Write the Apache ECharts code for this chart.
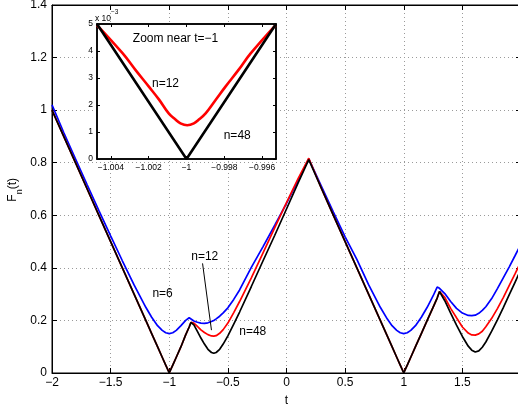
<!DOCTYPE html>
<html>
<head>
<meta charset="utf-8">
<script src="https://cdn.jsdelivr.net/npm/echarts@6/dist/echarts.min.js"></script>
<style>
  html, body { margin: 0; padding: 0; background: #fff; }
  #chart { width: 518px; height: 404px; }
</style>
</head>
<body>
<div id="chart"></div>
<script>
// Sample positions along t shared by the three main curves
const tValues = [-2, -1.9, -1.8, -1.7, -1.6, -1.5, -1.4, -1.3, -1.2, -1.15, -1.1, -1.06, -1.03, -1,
  -0.97, -0.94, -0.9, -0.86, -0.83, -0.815,
  -0.79, -0.76, -0.73, -0.7, -0.67, -0.64, -0.62, -0.6, -0.57, -0.54, -0.5, -0.45, -0.4,
  -0.3, -0.2, -0.1, 0, 0.1, 0.19,
  0.3, 0.4, 0.5, 0.6, 0.7, 0.8, 0.86, 0.9, 0.94, 0.97, 1,
  1.03, 1.06, 1.1, 1.15, 1.2, 1.25, 1.285, 1.305,
  1.35, 1.4, 1.45, 1.5, 1.55, 1.58, 1.61, 1.64, 1.67, 1.7, 1.75, 1.8, 1.85, 1.9, 1.95, 2];

// F_n(t) for n = 6
const fn6 = [1.02, 0.915, 0.815, 0.716, 0.618, 0.522, 0.427, 0.335, 0.25, 0.212, 0.18, 0.162, 0.153, 0.15,
  0.153, 0.162, 0.18, 0.2, 0.21, 0.205,
  0.198, 0.193, 0.19, 0.189, 0.191, 0.196, 0.2, 0.206, 0.216, 0.229, 0.248, 0.28, 0.316,
  0.402, 0.481, 0.562, 0.645, 0.735, 0.815,
  0.708, 0.612, 0.518, 0.432, 0.336, 0.25, 0.205, 0.18, 0.162, 0.153, 0.15,
  0.153, 0.162, 0.18, 0.212, 0.25, 0.293, 0.327, 0.322,
  0.302, 0.272, 0.246, 0.228, 0.219, 0.218, 0.22, 0.227, 0.238, 0.252, 0.283, 0.322, 0.363, 0.404, 0.447, 0.491];

// F_n(t) for n = 12
const fn12 = [1.0, 0.9, 0.8, 0.7, 0.6, 0.5, 0.4, 0.3, 0.2, 0.15, 0.1, 0.06, 0.03, 0.0013,
  0.03, 0.06, 0.1, 0.145, 0.175, 0.193,
  0.19, 0.177, 0.164, 0.154, 0.146, 0.141, 0.14, 0.142, 0.151, 0.165, 0.19, 0.23, 0.272,
  0.362, 0.457, 0.553, 0.648, 0.74, 0.817,
  0.7, 0.6, 0.5, 0.4, 0.3, 0.2, 0.14, 0.1, 0.06, 0.03, 0.0013,
  0.03, 0.06, 0.1, 0.15, 0.2, 0.25, 0.285, 0.31,
  0.288, 0.246, 0.21, 0.175, 0.152, 0.145, 0.144, 0.149, 0.159, 0.176, 0.208, 0.246, 0.288, 0.333, 0.378, 0.424];

// F_n(t) for n = 48
const fn48 = [1.0, 0.9, 0.8, 0.7, 0.6, 0.5, 0.4, 0.3, 0.2, 0.15, 0.1, 0.06, 0.03, 0,
  0.03, 0.06, 0.1, 0.145, 0.175, 0.192,
  0.183, 0.158, 0.133, 0.11, 0.09, 0.078, 0.075, 0.078, 0.09, 0.11, 0.141, 0.186, 0.232,
  0.329, 0.427, 0.524, 0.624, 0.724, 0.812,
  0.7, 0.6, 0.5, 0.4, 0.3, 0.2, 0.14, 0.1, 0.06, 0.03, 0,
  0.03, 0.06, 0.1, 0.15, 0.2, 0.25, 0.285, 0.31,
  0.275, 0.228, 0.182, 0.139, 0.102, 0.087, 0.08, 0.084, 0.098, 0.118, 0.159, 0.203, 0.25, 0.298, 0.346, 0.395];

// Close-up around t = -1 (values in units of 1e-3)
const insetT12 = [-1.00473, -1.00337, -1.0027, -1.00199, -1.00145, -1.00094, -1.0006, -1.00032, -0.99996,
  -0.99961, -0.99933, -0.99899, -0.9985, -0.99794, -0.99725, -0.99661, -0.99529];
const insetF12 = [4.96, 3.91, 3.3, 2.68, 2.2, 1.69, 1.47, 1.32, 1.25,
  1.32, 1.47, 1.69, 2.15, 2.68, 3.3, 3.91, 4.96];
const insetT48 = [-1.00473, -1, -0.99527];
const insetF48 = [5, 0, 5];
const insetXTicks = [-1.004, -1.002, -1, -0.998, -0.996];

const pair = (xs, ys) => xs.map((x, i) => [x, ys[i]]);
const minus = s => s.replace('-', '\u2212');
const FONT = 'Liberation Sans, Arial, Helvetica, sans-serif';

const chart = echarts.init(document.getElementById('chart'), null, { renderer: 'canvas' });

const tickInside = { show: true, inside: true, length: 5, lineStyle: { color: '#000', width: 1 } };
const axisBlack = { show: true, onZero: false, lineStyle: { color: '#000', width: 1 } };
const insetLine = { show: true, onZero: false, lineStyle: { color: '#000', width: 1.5 } };
const dotted = { show: true, lineStyle: { color: '#9a9a9a', width: 1, type: [1, 3] } };

function textMark(coord, text, size) {
  return {
    coord: coord, name: text, value: 0,
    symbol: 'circle', symbolSize: 0,
    itemStyle: { color: 'rgba(0,0,0,0)' },
    label: { show: true, position: 'inside', formatter: '{b}', color: '#000', fontSize: size || 12, fontFamily: FONT }
  };
}

chart.setOption({
  animation: false,
  backgroundColor: '#fff',
  grid: [
    { left: 52, top: 5, width: 469, height: 368, outerBoundsMode: 'none', containLabel: false,
      show: true, borderColor: '#000', borderWidth: 1, backgroundColor: 'transparent' },
    { left: 97, top: 24, width: 179, height: 135, outerBoundsMode: 'none', containLabel: false,
      show: true, borderColor: '#000', borderWidth: 1.5, backgroundColor: '#fff', z: 10 }
  ],
  xAxis: [
    {
      gridIndex: 0, type: 'value', min: -2, max: 2, interval: 0.5, position: 'bottom',
      axisLine: axisBlack, axisTick: tickInside, splitLine: dotted,
      axisLabel: { color: '#000', fontSize: 12, fontFamily: FONT, margin: 4,
        formatter: v => minus(String(+v.toFixed(1))) },
      name: 't', nameLocation: 'middle', nameGap: 22,
      nameTextStyle: { color: '#000', fontSize: 12, fontFamily: FONT }
    },
    {
      gridIndex: 0, type: 'value', min: -2, max: 2, interval: 0.5, position: 'top',
      axisLine: axisBlack, axisTick: tickInside, splitLine: { show: false }, axisLabel: { show: false }
    },
    {
      gridIndex: 1, type: 'value', min: -1.00473, max: -0.99527, position: 'bottom', z: 11,
      axisLine: insetLine,
      axisTick: { show: true, inside: true, length: 3, customValues: insetXTicks, lineStyle: { color: '#000' } },
      splitLine: { show: false },
      axisLabel: { color: '#000', fontSize: 8.5, fontFamily: FONT, margin: 4, customValues: insetXTicks,
        formatter: v => minus(String(+v.toFixed(3))) }
    },
    {
      gridIndex: 1, type: 'value', min: -1.00473, max: -0.99527, position: 'top', z: 11,
      axisLine: insetLine,
      axisTick: { show: true, inside: true, length: 3, customValues: insetXTicks, lineStyle: { color: '#000' } },
      splitLine: { show: false }, axisLabel: { show: false }
    }
  ],
  yAxis: [
    {
      gridIndex: 0, type: 'value', min: 0, max: 1.4, interval: 0.2, position: 'left',
      axisLine: axisBlack, axisTick: tickInside, splitLine: dotted,
      axisLabel: { color: '#000', fontSize: 12, fontFamily: FONT, margin: 5,
        formatter: v => String(+v.toFixed(1)) }
    },
    {
      gridIndex: 0, type: 'value', min: 0, max: 1.4, interval: 0.2, position: 'right',
      axisLine: axisBlack, axisTick: tickInside, splitLine: { show: false }, axisLabel: { show: false }
    },
    {
      gridIndex: 1, type: 'value', min: 0, max: 5, interval: 1, position: 'left', z: 11,
      axisLine: insetLine,
      axisTick: { show: true, inside: true, length: 3, lineStyle: { color: '#000' } },
      splitLine: { show: false },
      axisLabel: { color: '#000', fontSize: 8.5, fontFamily: FONT, margin: 4 }
    },
    {
      gridIndex: 1, type: 'value', min: 0, max: 5, interval: 1, position: 'right', z: 11,
      axisLine: insetLine,
      axisTick: { show: true, inside: true, length: 3, lineStyle: { color: '#000' } },
      splitLine: { show: false }, axisLabel: { show: false }
    }
  ],
  graphic: [
    {
      type: 'text', left: 7, top: 178, rotation: Math.PI / 2, z: 20,
      style: {
        text: '{i|F}{s|n}{i|(t)}',
        rich: {
          i: { fontSize: 12, fontFamily: FONT, fill: '#000', lineHeight: 17, verticalAlign: 'top' },
          s: { fontSize: 9, fontFamily: FONT, fill: '#000', lineHeight: 17, verticalAlign: 'bottom' }
        }
      }
    },
    {
      type: 'text', left: 95, top: 9, z: 20,
      style: {
        text: '{a|x 10}{b|\u22123}',
        rich: {
          a: { fontSize: 8.5, fontFamily: FONT, fill: '#000', lineHeight: 14, verticalAlign: 'bottom' },
          b: { fontSize: 6.5, fontFamily: FONT, fill: '#000', lineHeight: 14, verticalAlign: 'top' }
        }
      }
    }
  ],
  series: [
    {
      name: 'n=6', type: 'line', xAxisIndex: 0, yAxisIndex: 0, data: pair(tValues, fn6),
      showSymbol: false, lineStyle: { color: '#0000ff', width: 1.7 }, z: 2
    },
    {
      name: 'n=12', type: 'line', xAxisIndex: 0, yAxisIndex: 0, data: pair(tValues, fn12),
      showSymbol: false, lineStyle: { color: '#ff0000', width: 1.7 }, z: 3
    },
    {
      name: 'n=48', type: 'line', xAxisIndex: 0, yAxisIndex: 0, data: pair(tValues, fn48),
      showSymbol: false, lineStyle: { color: '#000000', width: 1.7 }, z: 4,
      markPoint: {
        silent: true, z: 6,
        data: [
          textMark([-1.057, 0.30], 'n=6'),
          textMark([-0.697, 0.442], 'n=12'),
          textMark([-0.288, 0.157], 'n=48')
        ]
      },
      markLine: {
        silent: true, z: 6, symbol: ['none', 'arrow'], symbolSize: [0, 8],
        label: { show: false },
        lineStyle: { color: '#000', width: 1, type: 'solid' },
        data: [[{ coord: [-0.716, 0.417] }, { coord: [-0.64, 0.163] }]]
      }
    },
    {
      name: 'n=12 close-up', type: 'line', xAxisIndex: 2, yAxisIndex: 2, data: pair(insetT12, insetF12),
      showSymbol: false, smooth: 0.4, lineStyle: { color: '#ff0000', width: 2.6 }, z: 12
    },
    {
      name: 'n=48 close-up', type: 'line', xAxisIndex: 2, yAxisIndex: 2, data: pair(insetT48, insetF48),
      showSymbol: false, lineStyle: { color: '#000000', width: 2.6 }, z: 13,
      markPoint: {
        silent: true, z: 20,
        data: [
          textMark([-1.00058, 4.44], 'Zoom near t=\u22121'),
          textMark([-1.00111, 2.78], 'n=12'),
          textMark([-0.99732, 0.85], 'n=48')
        ]
      }
    }
  ]
});
</script>
</body>
</html>
